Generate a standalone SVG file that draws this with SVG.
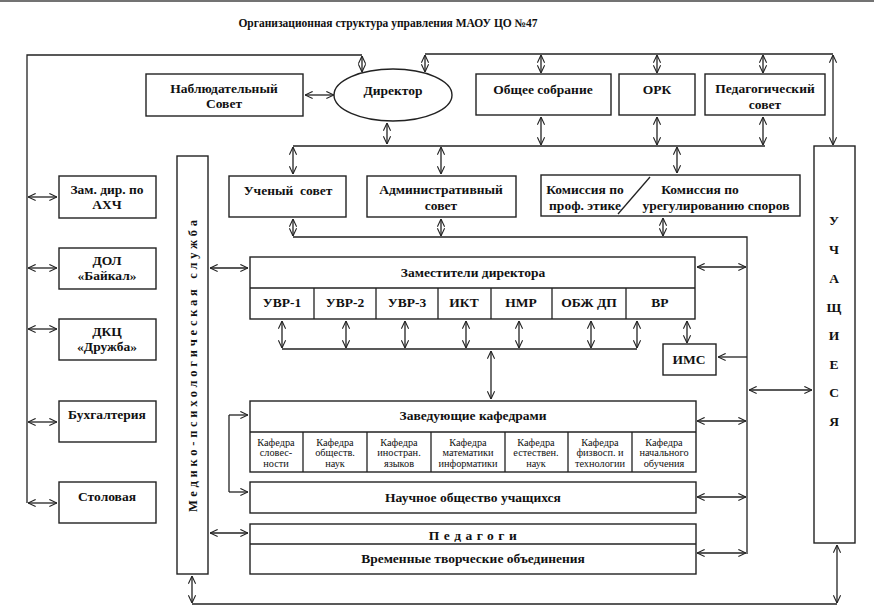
<svg xmlns="http://www.w3.org/2000/svg" width="874" height="615" viewBox="0 0 874 615" font-family="'Liberation Serif', 'DejaVu Serif', serif">
<defs>
<style>
.b{fill:#fff;stroke:#222;stroke-width:1.4}
.l{fill:none;stroke:#222;stroke-width:1.3}
.d{fill:none;stroke:#222;stroke-width:1.3;marker-start:url(#a);marker-end:url(#a)}
.s{fill:none;stroke:#222;stroke-width:1.3;marker-end:url(#a)}
text{font-family:'Liberation Serif','DejaVu Serif',serif;font-weight:bold;font-size:13.5px;fill:#111;text-anchor:middle;dominant-baseline:central}
text.k{font-weight:normal;font-size:10.3px}
</style>
<marker id="a" viewBox="0 0 10 10" refX="9.5" refY="5" markerWidth="9" markerHeight="9" markerUnits="userSpaceOnUse" orient="auto-start-reverse"><path d="M1,1 L9.5,5 L1,9" fill="none" stroke="#222" stroke-width="1.2"/></marker>
</defs>
<rect width="874" height="615" fill="#fff"/>
<line x1="0" y1="1" x2="874" y2="1" stroke="#444" stroke-width="1.5"/>
<text x="388" y="23" style="font-size:11.5px">Организационная структура управления МАОУ ЦО №47</text>

<g id="connectors">
<path class="l" d="M362,55 H27 V503"/>
<path class="l" d="M425,54 H833"/>
<path class="l" d="M293,146 H765"/>
<path class="l" d="M293,237 H747 V554"/>
<path class="l" d="M282,349 H637"/>
<path class="l" d="M229,415 V492"/>
<path class="l" d="M192,604 H837"/>
<path class="d" d="M362,56 V72"/>
<path class="d" d="M425,55 V72"/>
<path class="d" d="M305,95 H334"/>
<path class="d" d="M387,123 V144"/>
<path class="d" d="M541,55 V73"/>
<path class="d" d="M541,117 V145"/>
<path class="d" d="M657,55 V73"/>
<path class="d" d="M657,117 V145"/>
<path class="d" d="M763,55 V73"/>
<path class="d" d="M763,117 V145"/>
<path class="d" d="M833,55 V145"/>
<path class="d" d="M293,147 V174"/>
<path class="d" d="M441,147 V174"/>
<path class="d" d="M677,147 V173"/>
<path class="d" d="M293,219 V236"/>
<path class="d" d="M441,219 V236"/>
<path class="d" d="M663,218 V236"/>
<path class="d" d="M28,197 H57"/>
<path class="d" d="M28,268 H57"/>
<path class="d" d="M28,329 H57"/>
<path class="d" d="M28,422 H57"/>
<path class="d" d="M28,503 H57"/>
<path class="d" d="M210,268 H248"/>
<path class="d" d="M697,267 H746"/>
<path class="d" d="M282,321 V348"/>
<path class="d" d="M346,321 V348"/>
<path class="d" d="M405,321 V348"/>
<path class="d" d="M466,321 V348"/>
<path class="d" d="M519,321 V348"/>
<path class="d" d="M591,321 V348"/>
<path class="d" d="M637,321 V348"/>
<path class="d" d="M687,321 V343"/>
<path class="s" d="M747,357 H718"/>
<path class="d" d="M749,390 H812"/>
<path class="d" d="M491,351 V399"/>
<path class="d" d="M697,421 H746"/>
<path class="s" d="M229,415 H248"/>
<path class="s" d="M229,492 H248"/>
<path class="d" d="M697,497 H746"/>
<path class="d" d="M210,533 H248"/>
<path class="d" d="M697,553 H746"/>
<path class="d" d="M192,576 V603"/>
<path class="d" d="M837,545 V603"/>
</g>

<g id="nablyud"><rect class="b" x="146" y="74" width="157" height="42"/><text x="224" y="88">Наблюдательный</text><text x="224" y="103">Совет</text></g>
<g id="director"><ellipse class="b" cx="393" cy="95" rx="59" ry="26"/><text x="393" y="90">Директор</text></g>
<g id="obshchee"><rect class="b" x="476" y="74" width="135" height="41"/><text x="543" y="89">Общее собрание</text></g>
<g id="ork"><rect class="b" x="619" y="74" width="76" height="41"/><text x="657" y="89">ОРК</text></g>
<g id="pedsovet"><rect class="b" x="705" y="74" width="120" height="41"/><text x="765" y="88">Педагогический</text><text x="765" y="104">совет</text></g>
<g id="uchashchiesya"><rect class="b" x="814" y="146" width="41" height="397"/>
<text x="834" y="220">У</text><text x="834" y="249">Ч</text><text x="834" y="278">А</text><text x="834" y="307">Щ</text><text x="834" y="335">И</text><text x="834" y="364">Е</text><text x="834" y="392">С</text><text x="834" y="421">Я</text></g>
<g id="uchenyi"><rect class="b" x="229" y="176" width="117" height="41"/><text x="288" y="190" xml:space="preserve">Ученый  совет</text></g>
<g id="admin"><rect class="b" x="367" y="176" width="149" height="41"/><text x="441" y="189">Административный</text><text x="441" y="205">совет</text></g>
<g id="komissiya"><rect class="b" x="541" y="175" width="259" height="41"/><line class="l" x1="650" y1="177" x2="618" y2="214"/>
<text x="585" y="189">Комиссия по</text><text x="585" y="205">проф. этике</text><text x="700" y="189">Комиссия по</text><text x="716" y="205">урегулированию споров</text></g>
<g id="mediko"><rect class="b" x="177" y="156" width="31" height="418"/><text transform="translate(193,366) rotate(-90)" x="0" y="0" textLength="292" lengthAdjust="spacing" style="font-size:12.5px">Медико-психологическая служба</text></g>
<g id="zam-ahch"><rect class="b" x="59" y="176" width="97" height="42"/><text x="107" y="189">Зам. дир. по</text><text x="107" y="204">АХЧ</text></g>
<g id="dol"><rect class="b" x="59" y="248" width="97" height="41"/><text x="107" y="260">ДОЛ</text><text x="107" y="275">«Байкал»</text></g>
<g id="dkc"><rect class="b" x="59" y="319" width="97" height="41"/><text x="107" y="331">ДКЦ</text><text x="107" y="346">«Дружба»</text></g>
<g id="buh"><rect class="b" x="59" y="401" width="97" height="41"/><text x="107" y="414">Бухгалтерия</text></g>
<g id="stolovaya"><rect class="b" x="59" y="482" width="97" height="41"/><text x="107" y="496">Столовая</text></g>
<g id="zamestiteli"><rect class="b" x="250" y="257" width="445" height="62"/>
<path class="l" d="M250,288 H695 M314,288 V319 M376,288 V319 M438,288 V319 M491,288 V319 M552,288 V319 M626,288 V319"/>
<text x="473" y="272">Заместители директора</text>
<text x="282" y="302">УВР-1</text><text x="345" y="302">УВР-2</text><text x="407" y="302">УВР-3</text><text x="464" y="302">ИКТ</text><text x="521" y="302">НМР</text><text x="589" y="302">ОБЖ ДП</text><text x="660" y="302">ВР</text></g>
<g id="ims"><rect class="b" x="663" y="344" width="53" height="31"/><text x="689" y="359">ИМС</text></g>
<g id="zaveduyushchie"><rect class="b" x="250" y="401" width="446" height="71"/>
<path class="l" d="M250,432 H696 M303,432 V472 M367,432 V472 M431,432 V472 M505,432 V472 M568,432 V472 M632,432 V472"/>
<text x="473" y="415">Заведующие кафедрами</text>
<text class="k" x="276" y="442">Кафедра</text><text class="k" x="276" y="452.5">словес-</text><text class="k" x="276" y="463">ности</text>
<text class="k" x="335" y="442">Кафедра</text><text class="k" x="335" y="452.5">обществ.</text><text class="k" x="335" y="463">наук</text>
<text class="k" x="399" y="442">Кафедра</text><text class="k" x="399" y="452.5">иностран.</text><text class="k" x="399" y="463">языков</text>
<text class="k" x="468" y="442">Кафедра</text><text class="k" x="468" y="452.5">математики</text><text class="k" x="468" y="463">информатики</text>
<text class="k" x="536" y="442">Кафедра</text><text class="k" x="536" y="452.5">естествен.</text><text class="k" x="536" y="463">наук</text>
<text class="k" x="600" y="442">Кафедра</text><text class="k" x="600" y="452.5">физвосп. и</text><text class="k" x="600" y="463">технологии</text>
<text class="k" x="664" y="442">Кафедра</text><text class="k" x="664" y="452.5">начального</text><text class="k" x="664" y="463">обучения</text>
</g>
<g id="nauchnoe"><rect class="b" x="250" y="482" width="446" height="31"/><text x="473" y="497">Научное общество учащихся</text></g>
<g id="pedagogi"><rect class="b" x="250" y="524" width="446" height="50"/><line class="l" x1="250" y1="544" x2="696" y2="544"/>
<text x="475" y="535" style="letter-spacing:4.5px">Педагоги</text><text x="473" y="558">Временные творческие объединения</text></g>
</svg>
